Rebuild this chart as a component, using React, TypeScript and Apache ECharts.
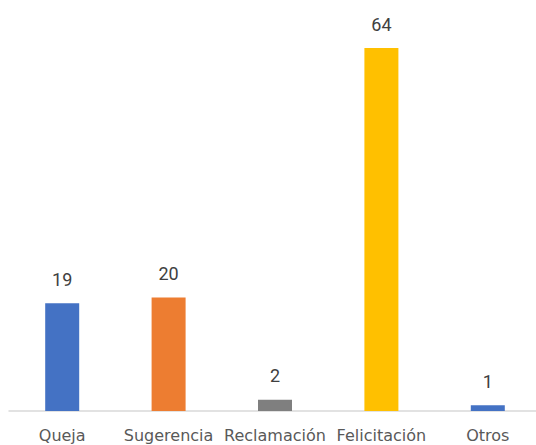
import React, { useEffect, useRef } from "react";
import * as echarts from "echarts";

const categories = ["Queja", "Sugerencia", "Reclamación", "Felicitación", "Otros"];
const values = [19, 20, 2, 64, 1];
const colors = ["#4472C4", "#ED7D31", "#7F7F7F", "#FFC000", "#4472C4"];

export default function App() {
  const ref = useRef<HTMLDivElement>(null);
  useEffect(() => {
    const chart = echarts.init(ref.current!, null, { renderer: "svg" });
    chart.setOption({
      animation: false,
      grid: { left: 9, width: 532, top: 48, bottom: 34, outerBoundsMode: "none" },
      xAxis: {
        type: "category",
        data: categories,
        axisLine: { lineStyle: { color: "#D9D9D9", width: 1.5 } },
        axisTick: { show: false },
        axisLabel: { color: "#595959", fontSize: 16, fontFamily: "DejaVu Sans", margin: 16, interval: 0 },
      },
      yAxis: { type: "value", min: 0, max: 64, show: false, splitLine: { show: false } },
      series: [
        {
          type: "bar",
          barWidth: 34,
          data: values.map((v, i) => ({ value: v, itemStyle: { color: colors[i] } })),
          label: {
            show: true,
            position: "top",
            distance: 15,
            color: "#404040",
            fontSize: 18,
            fontFamily: "Roboto",
          },
        },
      ],
    });
    return () => chart.dispose();
  }, []);
  return <div ref={ref} style={{ width: 536, height: 445, position: "absolute", left: 0, top: 0 }} />;
}
